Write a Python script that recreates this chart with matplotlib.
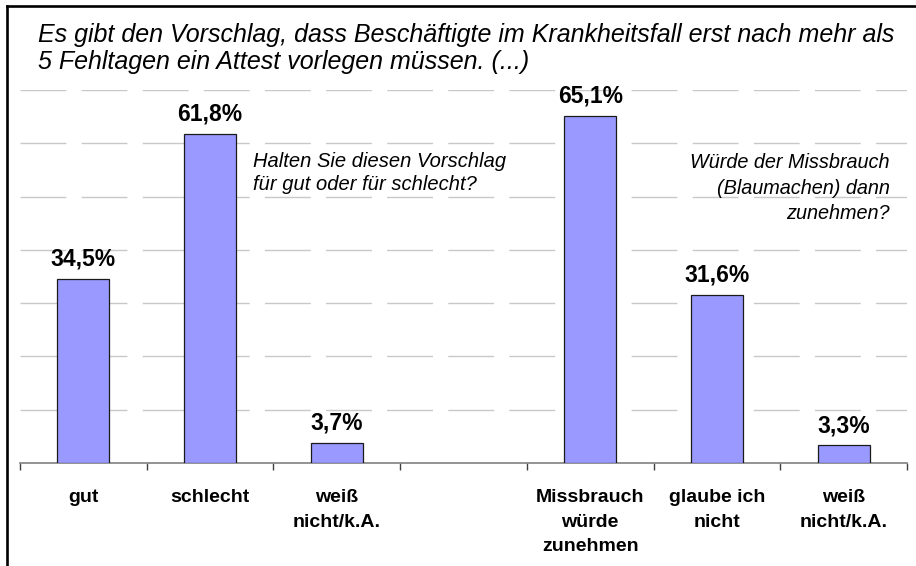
import matplotlib
matplotlib.use("Agg")
import matplotlib.pyplot as plt
from matplotlib.lines import Line2D

plt.rcParams['font.family'] = ['Liberation Sans', 'DejaVu Sans']
plt.rcParams['lines.scale_dashes'] = False

# data
categories = ["gut", "schlecht", "weiß\nnicht/k.A.", "",
              "Missbrauch\nwürde\nzunehmen", "glaube ich\nnicht", "weiß\nnicht/k.A."]
values = [34.5, 61.8, 3.7, None, 65.1, 31.6, 3.3]
value_labels = ["34,5%", "61,8%", "3,7%", "", "65,1%", "31,6%", "3,3%"]

title = ("Es gibt den Vorschlag, dass Beschäftigte im Krankheitsfall erst nach mehr als\n"
         "5 Fehltagen ein Attest vorlegen müssen. (...)")
question_left = "Halten Sie diesen Vorschlag\nfür gut oder für schlecht?"
question_right = "Würde der Missbrauch\n(Blaumachen) dann\nzunehmen?"

W, H = 916, 566
fig = plt.figure(figsize=(W / 100, H / 100), dpi=100)
ax = fig.add_axes([20 / W, 1 - 463 / H, 887 / W, 373 / H])

xs = [i for i, v in enumerate(values) if v is not None]
vals = [v for v in values if v is not None]
ax.bar(xs, vals, width=0.41, color="#9999FF", edgecolor="#1a1a1a", linewidth=0.9, zorder=3)

for x, v, lab in zip(range(len(values)), values, value_labels):
    if v is None:
        continue
    ax.annotate(lab, (x, v), xytext=(0, 6), textcoords="offset points",
                ha="center", va="bottom", fontsize=16.5, fontweight="bold", zorder=4)

for x, cat in enumerate(categories):
    if not cat:
        continue
    ax.annotate(cat, (x, 0), xytext=(0, -19), textcoords="offset points",
                ha="center", va="top", fontsize=14, fontweight="bold",
                linespacing=1.55, annotation_clip=False)

ax.set_xlim(-0.5, len(categories) - 0.5)
ax.set_ylim(0, 70)
ax.set_yticks([])
for y in range(10, 71, 10):
    ax.axhline(y, color="#c8c8c8", linewidth=1.0, dashes=(33, 11), zorder=1)

ax.set_xticks([i - 0.5 for i in range(len(categories) + 1)])
ax.set_xticklabels([])
ax.tick_params(axis="x", direction="out", length=5, width=1, color="#404040")
for s in ["top", "right", "left"]:
    ax.spines[s].set_visible(False)
ax.spines["bottom"].set_color("#808080")
ax.spines["bottom"].set_linewidth(1.2)
ax.set_facecolor("none")

fig.text(38 / W, 1 - 23 / H, title, ha="left", va="top", fontsize=18,
         style="italic", linespacing=1.18)
fig.text(253 / W, 1 - 152 / H, question_left, ha="left", va="top", fontsize=14.5,
         style="italic", linespacing=1.3)
fig.text(890 / W, 1 - 153 / H, question_right, ha="right", va="top", fontsize=14.3,
         style="italic", linespacing=1.45)

# outer frame (only left and top edges visible in the crop)
fig.add_artist(Line2D([7 / W, 7 / W], [0, 1 - 6 / H], transform=fig.transFigure,
                      color="black", linewidth=1.9))
fig.add_artist(Line2D([7 / W, 1], [1 - 6 / H, 1 - 6 / H], transform=fig.transFigure,
                      color="black", linewidth=1.9))

fig.savefig("out.png", dpi=100)
